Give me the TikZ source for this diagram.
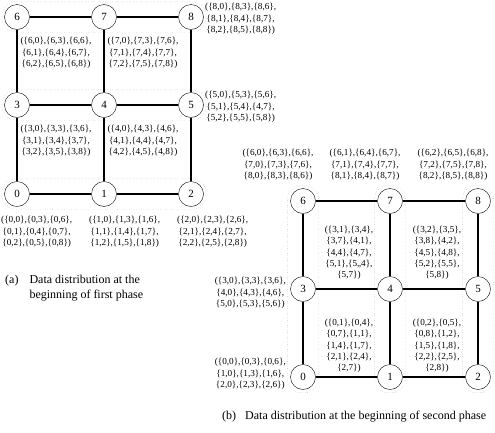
\documentclass[tikz,border=0pt]{standalone}
\usepackage{fontspec}
\setmainfont{Liberation Serif}
\usetikzlibrary{fit}
\newcommand{\bl}[1]{\{#1\}}

\begin{document}
\begin{tikzpicture}[x=1pt,y=-1pt]
\tikzstyle{lien}=[line width=1.6pt]
\tikzset{noeud/.style={draw,circle,fill=white,minimum size=25pt,inner sep=0pt,font=\fontsize{11}{11}\selectfont},
groupe/.style={draw=gray!70,dotted,rounded corners=14pt,inner sep=#1},
groupe/.default={2.5pt},
donnees/.style={align=center,inner sep=0pt,font=\fontsize{9.2}{11.3}\selectfont},
legende/.style={inner sep=0pt,font=\fontsize{12}{15}\selectfont}}
\useasboundingbox (0,0) rectangle (495,432);

\node[noeud] (a6) at (17,17) {6};
\node[noeud] (a7) at (104,17) {7};
\node[noeud] (a8) at (191,17) {8};
\node[noeud] (a3) at (17,105) {3};
\node[noeud] (a4) at (104,105) {4};
\node[noeud] (a5) at (191,105) {5};
\node[noeud] (a0) at (17,194) {0};
\node[noeud] (a1) at (104,194) {1};
\node[noeud] (a2) at (191,194) {2};

\node[groupe,fit=(a6)(a8)] (ra6) {};
\node[groupe,fit=(a3)(a5)] (ra3) {};
\node[groupe,fit=(a0)(a2)] (ra0) {};

\draw[lien] (a6) -- (a7);
\draw[lien] (a7) -- (a8);
\draw[lien] (a3) -- (a4);
\draw[lien] (a4) -- (a5);
\draw[lien] (a0) -- (a1);
\draw[lien] (a1) -- (a2);
\draw[lien] (a6) -- (a3);
\draw[lien] (a3) -- (a0);
\draw[lien] (a7) -- (a4);
\draw[lien] (a4) -- (a1);
\draw[lien] (a8) -- (a5);
\draw[lien] (a5) -- (a2);

\node[donnees] (da6) at (56,53) {(\bl{6,0},\bl{6,3},\bl{6,6},\\\bl{6,1},\bl{6,4},\bl{6,7},\\\bl{6,2},\bl{6,5},\bl{6,8})};
\node[donnees] (da7) at (143,53) {(\bl{7,0},\bl{7,3},\bl{7,6},\\\bl{7,1},\bl{7,4},\bl{7,7},\\\bl{7,2},\bl{7,5},\bl{7,8})};
\node[donnees,anchor=west] (da8) at (205,19) {(\bl{8,0},\bl{8,3},\bl{8,6},\\\bl{8,1},\bl{8,4},\bl{8,7},\\\bl{8,2},\bl{8,5},\bl{8,8})};
\node[donnees] (da3) at (56,141) {(\bl{3,0},\bl{3,3},\bl{3,6},\\\bl{3,1},\bl{3,4},\bl{3,7},\\\bl{3,2},\bl{3,5},\bl{3,8})};
\node[donnees] (da4) at (143,141) {(\bl{4,0},\bl{4,3},\bl{4,6},\\\bl{4,1},\bl{4,4},\bl{4,7},\\\bl{4,2},\bl{4,5},\bl{4,8})};
\node[donnees,anchor=west] (da5) at (205,107) {(\bl{5,0},\bl{5,3},\bl{5,6},\\\bl{5,1},\bl{5,4},\bl{4,7},\\\bl{5,2},\bl{5,5},\bl{5,8})};
\node[donnees,anchor=west] (da0) at (1,232) {(\bl{0,0},\bl{0,3},\bl{0,6},\\\bl{0,1},\bl{0,4},\bl{0,7},\\\bl{0,2},\bl{0,5},\bl{0,8})};
\node[donnees,anchor=west] (da1) at (89,232) {(\bl{1,0},\bl{1,3},\bl{1,6},\\\bl{1,1},\bl{1,4},\bl{1,7},\\\bl{1,2},\bl{1,5},\bl{1,8})};
\node[donnees,anchor=west] (da2) at (177,232) {(\bl{2,0},\bl{2,3},\bl{2,6},\\\bl{2,1},\bl{2,4},\bl{2,7},\\\bl{2,2},\bl{2,5},\bl{2,8})};

\node[legende,anchor=base west] (capa) at (5,283) {\begin{tabular}[t]{@{}l@{\hspace{11pt}}l@{}}(a) & Data distribution at the\\ & beginning of first phase\end{tabular}};

\node[noeud] (b6) at (303,201) {6};
\node[noeud] (b7) at (390,201) {7};
\node[noeud] (b8) at (478,201) {8};
\node[noeud] (b3) at (303,289) {3};
\node[noeud] (b4) at (390,289) {4};
\node[noeud] (b5) at (478,289) {5};
\node[noeud] (b0) at (303,377) {0};
\node[noeud] (b1) at (390,377) {1};
\node[noeud] (b2) at (478,377) {2};

\node[groupe=3pt,fit=(b6)(b0)] (rb6) {};
\node[groupe=3pt,fit=(b7)(b1)] (rb7) {};
\node[groupe=3pt,fit=(b8)(b2)] (rb8) {};

\draw[lien] (b6) -- (b7);
\draw[lien] (b7) -- (b8);
\draw[lien] (b3) -- (b4);
\draw[lien] (b4) -- (b5);
\draw[lien] (b0) -- (b1);
\draw[lien] (b1) -- (b2);
\draw[lien] (b6) -- (b3);
\draw[lien] (b3) -- (b0);
\draw[lien] (b7) -- (b4);
\draw[lien] (b4) -- (b1);
\draw[lien] (b8) -- (b5);
\draw[lien] (b5) -- (b2);

\node[donnees] (db6) at (278,165) {(\bl{6,0},\bl{6,3},\bl{6,6},\\\bl{7,0},\bl{7,3},\bl{7,6},\\\bl{8,0},\bl{8,3},\bl{8,6})};
\node[donnees] (db7) at (365,165) {(\bl{6,1},\bl{6,4},\bl{6,7},\\\bl{7,1},\bl{7,4},\bl{7,7},\\\bl{8,1},\bl{8,4},\bl{8,7})};
\node[donnees] (db8) at (453,165) {(\bl{6,2},\bl{6,5},\bl{6,8},\\\bl{7,2},\bl{7,5},\bl{7,8},\\\bl{8,2},\bl{8,5},\bl{8,8})};
\node[donnees] (db4) at (349,253) {(\bl{3,1},\bl{3,4},\\\bl{3,7},\bl{4,1},\\\bl{4,4},\bl{4,7},\\\bl{5,1},\bl{5,,4},\\\bl{5,7})};
\node[donnees] (db5) at (437,253) {(\bl{3,2},\bl{3,5},\\\bl{3,8},\bl{4,2},\\\bl{4,5},\bl{4,8},\\\bl{5,2},\bl{5,5},\\\bl{5,8})};
\node[donnees,anchor=east] (db3) at (286,293) {(\bl{3,0},\bl{3,3},\bl{3,6},\\\bl{4,0},\bl{4,3},\bl{4,6},\\\bl{5,0},\bl{5,3},\bl{5,6})};
\node[donnees,anchor=east] (db0) at (286,374) {(\bl{0,0},\bl{0,3},\bl{0,6},\\\bl{1,0},\bl{1,3},\bl{1,6},\\\bl{2,0},\bl{2,3},\bl{2,6})};
\node[donnees] (db1) at (349,346) {(\bl{0,1},\bl{0,4},\\\bl{0,7},\bl{1,1},\\\bl{1,4},\bl{1,7},\\\bl{2,1},\bl{2,4},\\\bl{2,7})};
\node[donnees] (db2) at (437,346) {(\bl{0,2},\bl{0,5},\\\bl{0,8},\bl{1,2},\\\bl{1,5},\bl{1,8},\\\bl{2,2},\bl{2,5},\\\bl{2,8})};

\node[legende,anchor=base west] (capb) at (222,419) {(b)\hspace{9pt}Data distribution at the beginning of second phase};

\end{tikzpicture}
\end{document}
